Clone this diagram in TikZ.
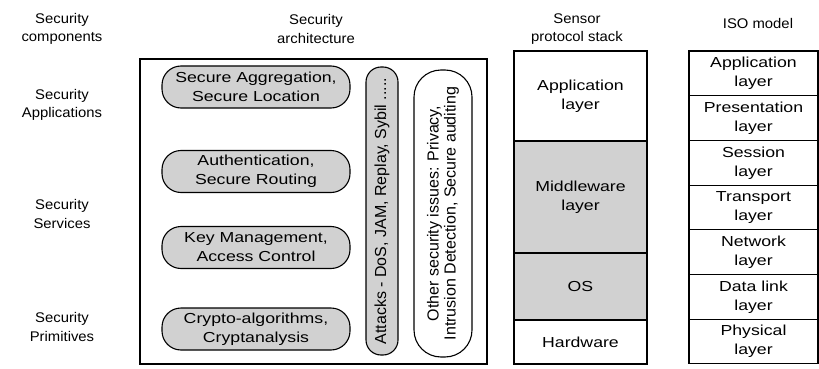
\documentclass[tikz,border=0pt]{standalone}
\usepackage{fontspec}
\setmainfont{Liberation Sans}[FakeStretch=1.22]
\newfontfamily\hdfont{Liberation Sans}[FakeStretch=1.06]
\newfontfamily\rotfont{Liberation Sans}
\usetikzlibrary{positioning}
\definecolor{shade}{gray}{0.82}
\begin{document}
\begin{tikzpicture}[x=1pt,y=-1pt,line width=1.1pt,
every node/.style={inner sep=0pt,outer sep=0pt,align=center},
hd/.style={font=\hdfont\fontsize{14}{18.5}\selectfont},
txt/.style={font=\fontsize{14.5}{19}\selectfont},
pill/.style={txt,draw,fill=shade,rounded corners=19pt,minimum width=188pt,minimum height=42pt},
vpill/.style={draw,rotate=90,font=\rotfont\fontsize{16}{17}\selectfont},
stack/.style={txt,draw,minimum width=133pt},
iso/.style={txt,draw,minimum width=129pt,minimum height=44.7pt}
]
\useasboundingbox (0,0) rectangle (819,369);
% column titles
\node[hd] (hcomp) at (62,29) {Security\\components};
\node[hd] (harch) at (316,29) {Security\\architecture};
\node[hd] (hstack) at (577,29) {Sensor\\protocol stack};
\node[hd] (hiso) at (758,23) {ISO model};
\node[hd] (sapp) at (62,105) {Security\\Applications};
\node[hd] (sserv) at (62,214) {Security\\Services};
\node[hd] (sprim) at (62,327) {Security\\Primitives};
% architecture
\node[draw,line width=2.2pt,minimum width=347pt,minimum height=305pt] (arch) at (313.5,211.5) {};
\node[pill] (aggr) at (256,87) {Secure Aggregation,\\Secure Location};
\node[pill] (auth) at (256,171.5) {Authentication,\\Secure Routing};
\node[pill] (keym) at (256,247.5) {Key Management,\\Access Control};
\node[pill] (crypt) at (256,329) {Crypto-algorithms,\\Cryptanalysis};
\node[vpill,fill=shade,rounded corners=15pt,minimum width=288pt,minimum height=32pt] (attk) at (382,211) {Attacks - DoS, JAM, Replay, Sybil .....};
\node[vpill,rounded corners=27pt,minimum width=287pt,minimum height=58pt] (other) at (443,213.5) {Other security issues: Privacy,\\Intrusion Detection, Secure auditing};
% sensor stack
\node[stack,minimum height=90pt] (sapl) at (580.5,96) {Application\\layer};
\node[stack,fill=shade,minimum height=112pt,below=0pt of sapl] (smid) {Middleware\\layer};
\node[stack,fill=shade,minimum height=67pt,below=0pt of smid] (sos) {OS};
\node[stack,minimum height=44pt,below=0pt of sos] (shw) {Hardware};
% iso model
\node[iso,anchor=north] (iapl) at (753.5,51) {Application\\layer};
\node[iso,below=0pt of iapl] (ipres) {Presentation\\layer};
\node[iso,below=0pt of ipres] (isess) {Session\\layer};
\node[iso,below=0pt of isess] (itrans) {Transport\\layer};
\node[iso,below=0pt of itrans] (inet) {Network\\layer};
\node[iso,below=0pt of inet] (idata) {Data link\\layer};
\node[iso,below=0pt of idata] (iphys) {Physical\\layer};
\end{tikzpicture}
\end{document}
